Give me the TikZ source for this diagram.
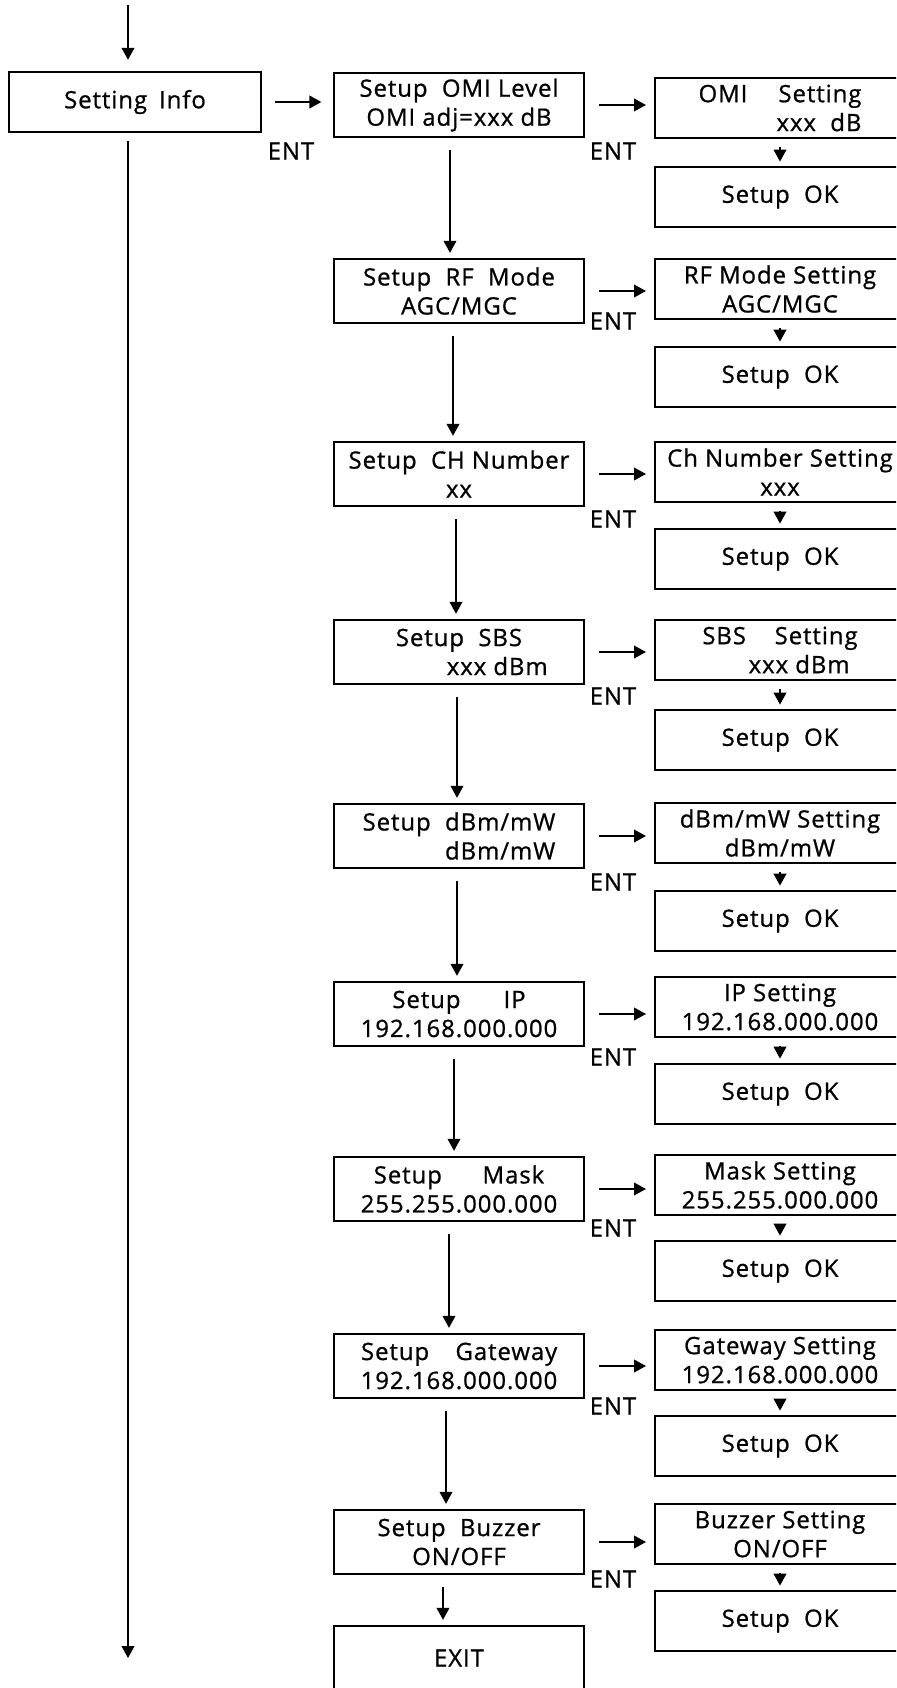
\documentclass[tikz,border=0pt]{standalone}
\usepackage{fontspec}
\setmainfont[LetterSpace=4, FakeBold=0.9]{Open Sans}
\usetikzlibrary{arrows.meta, calc, positioning}

\tikzset{
  menubox/.style={draw, line width=1.4pt, minimum width=6.27cm, minimum height=1.62cm, align=center, inner sep=2pt},
  setbox/.style={draw, line width=1.4pt, minimum width=6.25cm, minimum height=1.52cm, align=center, inner sep=2pt},
  entlabel/.style={inner sep=0pt},
  flow/.style={line width=1.2pt, -{Triangle[length=8.5pt,width=9pt]}}
}

\begin{document}
\begin{tikzpicture}[x=0.025cm, y=-0.025cm, font=\fontsize{17}{20.6}\selectfont]
      \useasboundingbox (0,0) rectangle (896,1688);
      \clip (0,0) rectangle (896,1688);

      \coordinate (start) at (128,5);
      \coordinate (stop) at (128,1658);
      \node[menubox, minimum width=6.32cm, minimum height=1.5cm] (info) at (135,102) {Setting\hspace{0.5em}Info};

      \node[menubox] (omi) at (459,105) {Setup\ \ OMI Level\\OMI adj=xxx dB};
      \node[menubox] (rf) at (459,291) {Setup\ \ RF\ \ Mode\\AGC/MGC};
      \node[menubox] (ch) at (459,474) {Setup\ \ CH Number\\xx};
      \node[menubox] (sbs) at (459,652) {Setup\ \ SBS\\\hspace*{3.2em}xxx dBm};
      \node[menubox, align=right] (unit) at (459,836) {Setup\ \ dBm/mW\\dBm/mW};
      \node[menubox] (ip) at (459,1014) {Setup\hspace{1.8em}IP\\192.168.000.000};
      \node[menubox] (mask) at (459,1189) {Setup\hspace{1.7em}Mask\\255.255.000.000};
      \node[menubox, align=right] (gw) at (459,1366) {Setup\hspace{1.1em}Gateway\\192.168.000.000};
      \node[menubox] (buz) at (459,1542) {Setup\ \ Buzzer\\ON/OFF};
      \node[menubox] (exit) at (459,1658) {EXIT};

      \node[setbox, align=right] (omiset) at (780,108) {OMI\hspace{1.3em}Setting\\xxx\ \ dB};
      \node[setbox] (rfset) at (780,289) {RF Mode Setting\\AGC/MGC};
      \node[setbox] (chset) at (780,472) {Ch Number Setting\\xxx};
      \node[setbox] (sbsset) at (780,650) {SBS\hspace{1.2em}Setting\\\hspace*{1.6em}xxx dBm};
      \node[setbox] (unitset) at (780,833) {dBm/mW Setting\\dBm/mW};
      \node[setbox] (ipset) at (780,1007) {IP Setting\\192.168.000.000};
      \node[setbox] (maskset) at (780,1185) {Mask Setting\\255.255.000.000};
      \node[setbox] (gwset) at (780,1360) {Gateway Setting\\192.168.000.000};
      \node[setbox] (buzset) at (780,1534) {Buzzer Setting\\ON/OFF};

      \node[setbox] (omiok) at (780,197) {Setup\ \ OK};
      \node[setbox] (rfok) at (780,377) {Setup\ \ OK};
      \node[setbox] (chok) at (780,559) {Setup\ \ OK};
      \node[setbox] (sbsok) at (780,740) {Setup\ \ OK};
      \node[setbox] (unitok) at (780,921) {Setup\ \ OK};
      \node[setbox] (ipok) at (780,1094) {Setup\ \ OK};
      \node[setbox] (maskok) at (780,1271) {Setup\ \ OK};
      \node[setbox] (gwok) at (780,1446) {Setup\ \ OK};
      \node[setbox] (buzok) at (780,1621) {Setup\ \ OK};

      \node[entlabel] (infoent) at (291,151) {ENT};
      \node[entlabel] (omient) at (613,151) {ENT};
      \node[entlabel] (rfent) at (613,321) {ENT};
      \node[entlabel] (chent) at (613,519) {ENT};
      \node[entlabel] (sbsent) at (613,696) {ENT};
      \node[entlabel] (unitent) at (613,882) {ENT};
      \node[entlabel] (ipent) at (613,1057) {ENT};
      \node[entlabel] (maskent) at (613,1228) {ENT};
      \node[entlabel] (gwent) at (613,1406) {ENT};
      \node[entlabel] (buzent) at (613,1579) {ENT};

      \draw[flow, shorten >=0.28cm] (start) -- (start |- info.north);
      \draw[flow, shorten <=0.2cm] (start |- info.south) -- (stop);
      \draw[flow, shorten <=0.32cm, shorten >=0.28cm] (info.east) -- (info.east -| omi.west);

      \foreach \m/\r/\s in {omi/omiset/omiok, rf/rfset/rfok, ch/chset/chok, sbs/sbsset/sbsok,
          unit/unitset/unitok, ip/ipset/ipok, mask/maskset/maskok, gw/gwset/gwok, buz/buzset/buzok} {
        \draw[flow, shorten <=0.35cm, shorten >=0.2cm] (\m.east) -- (\m.east -| \r.west);
        \draw[flow, shorten <=0.2cm, shorten >=0.1cm] (\r) -- (\s);
      }

      \foreach \a/\b/\dx in {omi/rf/-9, rf/ch/-6, ch/sbs/-3, sbs/unit/-2, unit/ip/-2,
          ip/mask/-5, mask/gw/-10, gw/buz/-13, buz/exit/-16} {
        \path (\a.south) ++(\dx,0) coordinate (p) (p |- \b.north) coordinate (q);
        \draw[flow, shorten <=0.3cm, shorten >=0.12cm] (p) -- (q);
      }
    \end{tikzpicture}
\end{document}
